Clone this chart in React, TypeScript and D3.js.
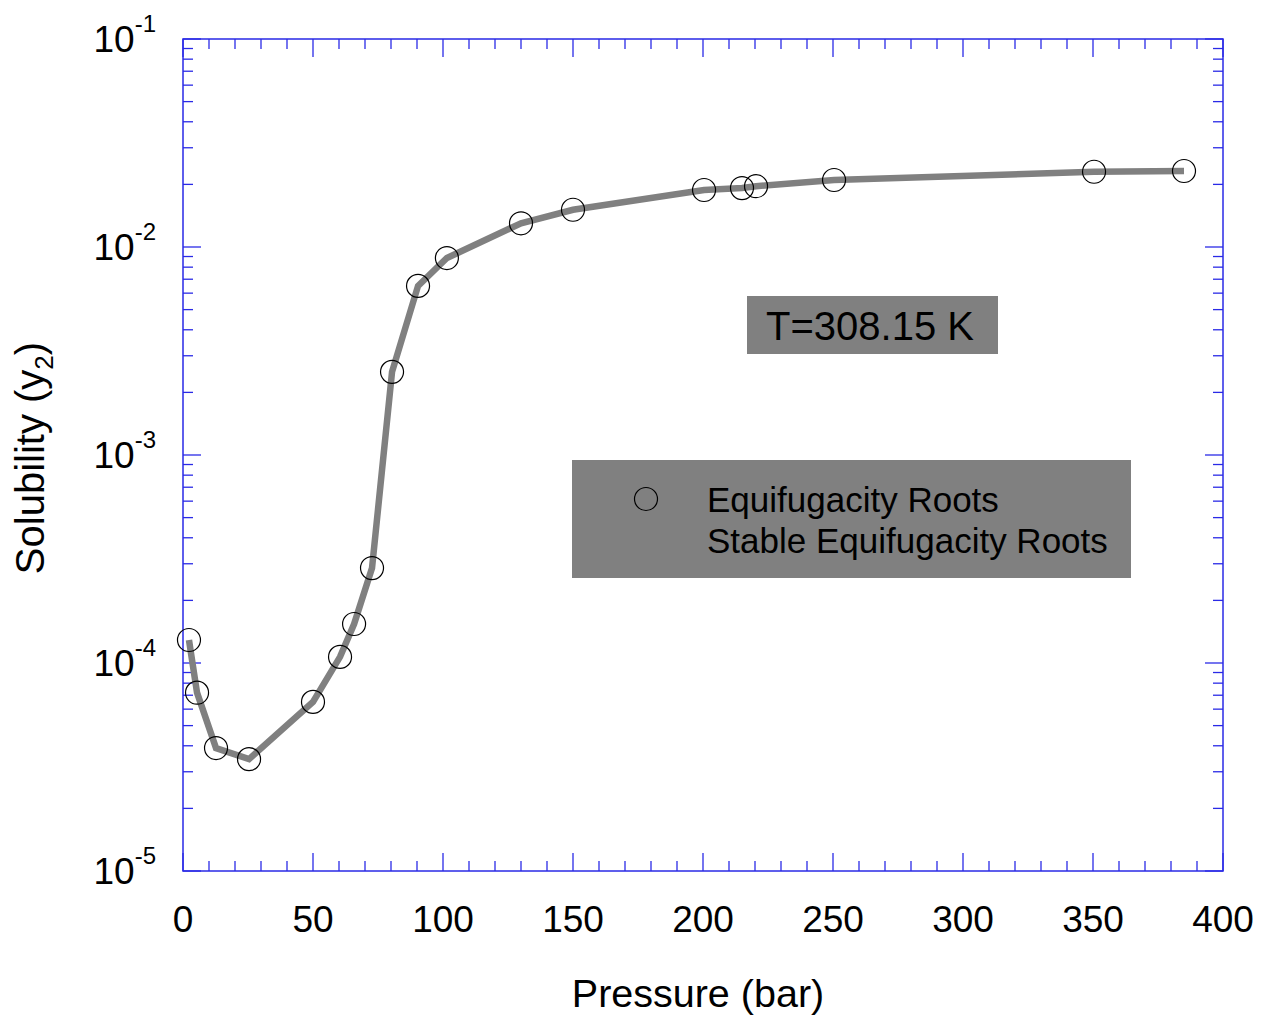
import React from "react";
import * as d3 from "d3";

const pressure = [2.3, 5.4, 12.7, 25.4, 50, 60.4, 65.8, 72.7, 80.4, 90.4, 101.5, 130, 150, 200.4, 215, 220.4, 250.4, 350.4, 385];
const solubility = [1.29e-4, 7.2e-5, 3.9e-5, 3.45e-5, 6.5e-5, 1.07e-4, 1.54e-4, 2.86e-4, 2.51e-3, 6.5e-3, 8.85e-3, 1.3e-2, 1.51e-2, 1.88e-2, 1.92e-2, 1.96e-2, 2.1e-2, 2.3e-2, 2.32e-2];
const stablePressure = [2.3, 5.4, 12.7, 25.4, 50, 60.4, 65.8, 72.7, 80.4, 90.4, 101.5, 130, 150, 200.4, 215, 220.4, 250.4, 350.4, 385];
const stableSolubility = [1.29e-4, 7.2e-5, 3.9e-5, 3.45e-5, 6.5e-5, 1.07e-4, 1.54e-4, 2.86e-4, 2.51e-3, 6.5e-3, 8.85e-3, 1.3e-2, 1.51e-2, 1.88e-2, 1.92e-2, 1.96e-2, 2.1e-2, 2.3e-2, 2.32e-2];
const xTicks = [0, 50, 100, 150, 200, 250, 300, 350, 400];
const yExponents = [-1, -2, -3, -4, -5];
const legendLabels = ["Equifugacity Roots", "Stable Equifugacity Roots"];
const annotation = "T=308.15 K";

const FONT = "'Liberation Sans', Arial, Helvetica, sans-serif";
const AXIS = "#2a2ae6";

export default function App() {
  const L = 183, R = 1223, T = 39, B = 871;
  const x = d3.scaleLinear().domain([0, 400]).range([L, R]);
  const y = d3.scaleLog().domain([1e-5, 1e-1]).range([B, T]);

  const minorX = d3.range(0, 401, 10).filter((v) => v % 50 !== 0);
  const minorY: number[] = [];
  for (let e = -5; e < -1; e++) for (let m = 2; m <= 9; m++) minorY.push(m * Math.pow(10, e));

  const line = d3
    .line<number>()
    .x((_, i) => x(stablePressure[i]))
    .y((d) => y(d));

  const majLen = 18, minLen = 10;

  return (
    <svg width={1262} height={1017} style={{ position: "absolute", left: 0, top: 0, background: "#fff" }} fontFamily={FONT}>
      {/* ticks */}
      <g stroke={AXIS} strokeWidth={1.3}>
        {xTicks.map((v) => (
          <g key={"xm" + v}>
            <line x1={x(v)} x2={x(v)} y1={B} y2={B - majLen} />
            <line x1={x(v)} x2={x(v)} y1={T} y2={T + majLen} />
          </g>
        ))}
        {minorX.map((v) => (
          <g key={"xn" + v}>
            <line x1={x(v)} x2={x(v)} y1={B} y2={B - minLen} />
            <line x1={x(v)} x2={x(v)} y1={T} y2={T + minLen} />
          </g>
        ))}
        {yExponents.map((e) => (
          <g key={"ym" + e}>
            <line x1={L} x2={L + majLen} y1={y(Math.pow(10, e))} y2={y(Math.pow(10, e))} />
            <line x1={R} x2={R - majLen} y1={y(Math.pow(10, e))} y2={y(Math.pow(10, e))} />
          </g>
        ))}
        {minorY.map((v, i) => (
          <g key={"yn" + i}>
            <line x1={L} x2={L + minLen} y1={y(v)} y2={y(v)} />
            <line x1={R} x2={R - minLen} y1={y(v)} y2={y(v)} />
          </g>
        ))}
      </g>
      <rect x={L} y={T} width={R - L} height={B - T} fill="none" stroke={AXIS} strokeWidth={1.5} />

      {/* data */}
      <path d={line(stableSolubility) || ""} fill="none" stroke="#808080" strokeWidth={6.5} strokeLinejoin="miter" />
      {pressure.map((p, i) => (
        <circle key={"c" + i} cx={x(p)} cy={y(solubility[i])} r={11.5} fill="none" stroke="#000" strokeWidth={1.2} />
      ))}

      {/* tick labels */}
      {xTicks.map((v) => (
        <text key={"xl" + v} x={x(v)} y={932} fontSize={37} textAnchor="middle" fill="#000">
          {v}
        </text>
      ))}
      {yExponents.map((e) => (
        <text key={"yl" + e} x={156} y={y(Math.pow(10, e)) + 13} fontSize={37} textAnchor="end" fill="#000">
          10
          <tspan dy={-20} fontSize={24}>
            {String(e)}
          </tspan>
        </text>
      ))}

      {/* axis titles */}
      <text x={698} y={1007} fontSize={39.5} textAnchor="middle" fill="#000">
        Pressure (bar)
      </text>
      <text transform="translate(44,458) rotate(-90)" fontSize={40} textAnchor="middle" fill="#000">
        Solubility (y
        <tspan dy={9} fontSize={26}>2</tspan>
        <tspan dy={-9}>)</tspan>
      </text>

      {/* annotation */}
      <rect x={747} y={296} width={251} height={58} fill="#808080" />
      <text x={870} y={340} fontSize={40} textAnchor="middle" fill="#000">
        {annotation}
      </text>

      {/* legend */}
      <rect x={572} y={460} width={559} height={118} fill="#808080" />
      <circle cx={646} cy={499} r={11.5} fill="none" stroke="#000" strokeWidth={1.2} />
      <line x1={620} x2={672} y1={540} y2={540} stroke="#808080" strokeWidth={6.5} />
      <text x={707} y={512} fontSize={35} fill="#000">
        {legendLabels[0]}
      </text>
      <text x={707} y={553} fontSize={35} fill="#000">
        {legendLabels[1]}
      </text>
    </svg>
  );
}
